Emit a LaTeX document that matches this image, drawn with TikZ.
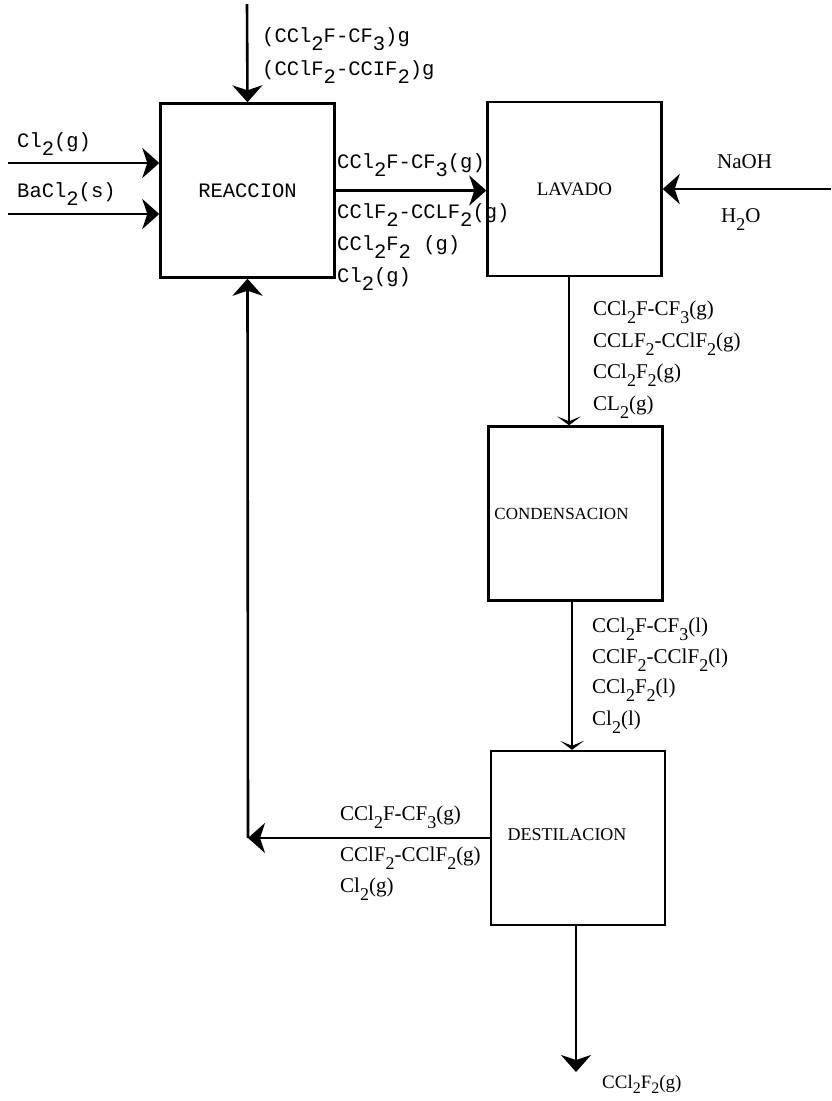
\documentclass[tikz,border=0pt]{standalone}
\usepackage{fontspec}
\usetikzlibrary{arrows.meta}
\newfontfamily\twfont{Liberation Mono}
\newfontfamily\prfont{Liberation Serif}
\newcommand{\dn}[1]{\raisebox{-0.75ex}{#1}}
\newcommand{\ds}[1]{\raisebox{-0.9ex}{\fontsize{18}{20}\selectfont #1}}
\begin{document}
\begin{tikzpicture}[x=1pt,y=-1pt,
  box/.style={draw, line width=2.4pt, inner sep=0pt, minimum width=174pt, minimum height=174pt},
  flow/.style={line width=2.6pt, -{Stealth[length=17pt,width=30pt,inset=5pt]}},
  thinflow/.style={line width=1.8pt, -{Stealth[length=9pt,width=24pt,inset=5pt]}},
  mono/.style={font=\twfont\fontsize{20.5}{24}\selectfont, inner sep=0pt, anchor=base west},
  prop/.style={font=\prfont\fontsize{21}{24}\selectfont, inner sep=0pt, anchor=base west}
]
\useasboundingbox (0,0) rectangle (831,1101);

% boxes
\node[box, font=\twfont\fontsize{20.5}{24}\selectfont] (reac) at (247.5,190.5) {REACCION};
\node[box, font=\prfont\fontsize{19}{22}\selectfont] (lav) at (574.5,189) {\raisebox{-3pt}{LAVADO}};
\node[box, font=\prfont\fontsize{17}{20}\selectfont] (cond) at (575.5,513.5) {CONDENSACION\hspace*{28pt}};
\node[box, font=\prfont\fontsize{18}{20}\selectfont] (dest) at (578,838) {\raisebox{6pt}{DESTILACION}\hspace*{22pt}};

% free ends
\coordinate (top) at (247,4);
\coordinate (clin) at (8,163);
\coordinate (bain) at (8,214);
\coordinate (naoh) at (831,189);
\coordinate (ret) at (248,838);
\coordinate (out) at (576,1072);

% connectors
\draw[flow] (top) -- (reac.north);
\draw[flow] (clin) -- (clin -| reac.west);
\draw[flow] (bain) -- (bain -| reac.west);
\draw[flow] (reac.east) -- (reac.east -| lav.west);
\draw[flow] (naoh) -- (naoh -| lav.east);
\draw[thinflow] ([xshift=-5.5pt]lav.south) -- ([xshift=-6.5pt]cond.north);
\draw[thinflow] ([xshift=-3.5pt]cond.south) -- ([xshift=-6pt]dest.north);
\draw[flow] (dest.west) -- (ret);
\draw[flow] (ret) -- (reac.south);
\draw[flow] ([xshift=-2pt]dest.south) -- (out);

% labels near REACCION (typewriter)
\node[mono] (t1) at (262,42) {(CCl\dn{2}F-CF\dn{3})g};
\node[mono] (t2) at (262,75) {(CClF\dn{2}-CCIF\dn{2})g};
\node[mono] (t3) at (17,147) {Cl\dn{2}(g)};
\node[mono] (t4) at (17,197) {BaCl\dn{2}(s)};
\node[mono] (r1) at (337,168) {CCl\dn{2}F-CF\dn{3}(g)};
\node[mono] (r2) at (337,218) {CClF\dn{2}-CCLF\dn{2}(g)};
\node[mono] (r3) at (337,250) {CCl\dn{2}F\dn{2} (g)};
\node[mono] (r4) at (337,282) {Cl\dn{2}(g)};

% other labels
\node[prop] (n1) at (717,168) {NaOH};
\node[prop] (n2) at (721,222) {H\ds{2}O};
\node[prop] (c1) at (593,315) {CCl\ds{2}F-CF\ds{3}(g)};
\node[prop] (c2) at (593,347) {CCLF\ds{2}-CClF\ds{2}(g)};
\node[prop] (c3) at (593,378) {CCl\ds{2}F\ds{2}(g)};
\node[prop] (c4) at (593,410) {CL\ds{2}(g)};
\node[prop] (d1) at (592,632) {CCl\ds{2}F-CF\ds{3}(l)};
\node[prop] (d2) at (592,663) {CClF\ds{2}-CClF\ds{2}(l)};
\node[prop] (d3) at (592,693) {CCl\ds{2}F\ds{2}(l)};
\node[prop] (d4) at (592,725) {Cl\ds{2}(l)};
\node[prop] (b1) at (340,820) {CCl\ds{2}F-CF\ds{3}(g)};
\node[prop] (b2) at (340,861) {CClF\ds{2}-CClF\ds{2}(g)};
\node[prop] (b3) at (340,892) {Cl\ds{2}(g)};
\node[prop, font=\prfont\fontsize{19}{22}\selectfont] (o1) at (602,1088) {CCl\raisebox{-0.6ex}{\fontsize{16}{18}\selectfont 2}F\raisebox{-0.6ex}{\fontsize{16}{18}\selectfont 2}(g)};
\end{tikzpicture}
\end{document}
